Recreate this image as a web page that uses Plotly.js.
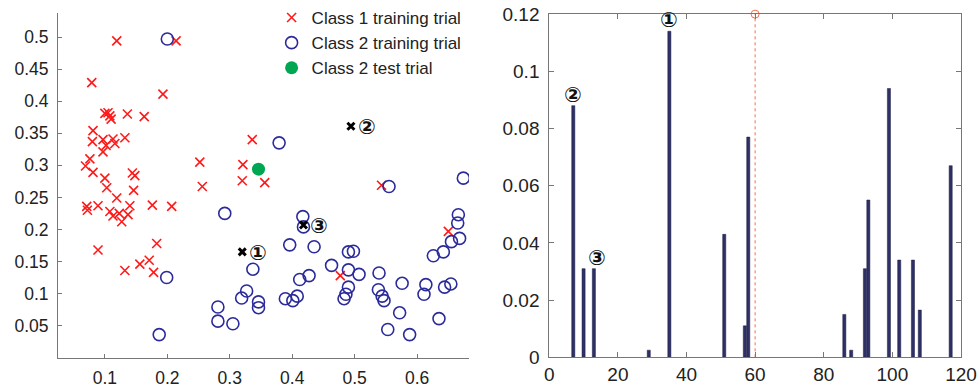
<!DOCTYPE html>
<html><head><meta charset="utf-8">
<script src="https://cdn.plot.ly/plotly-3.0.1.min.js"></script>
<style>html,body{margin:0;padding:0;background:#fff}#chart{width:977px;height:392px}</style>
</head><body><div id="chart"></div>
<script>
// Left: feature space
const class1X = [0.119,0.214,0.079,0.193,0.100,0.105,0.108,0.110,0.136,0.163,0.081,0.080,0.097,0.113,0.116,0.132,0.102,0.097,0.076,0.069,0.081,0.100,0.144,0.148,0.103,0.146,0.119,0.252,0.256,0.321,0.320,0.336,0.356,0.543,0.071,0.072,0.089,0.108,0.113,0.123,0.127,0.137,0.140,0.176,0.207,0.183,0.089,0.171,0.156,0.132,0.178,0.477,0.650];
const class1Y = [0.494,0.494,0.429,0.411,0.381,0.382,0.377,0.372,0.380,0.376,0.354,0.337,0.340,0.341,0.334,0.343,0.331,0.321,0.310,0.299,0.289,0.280,0.288,0.284,0.265,0.261,0.249,0.305,0.267,0.301,0.276,0.340,0.273,0.269,0.236,0.230,0.237,0.228,0.221,0.225,0.212,0.223,0.237,0.238,0.236,0.178,0.168,0.152,0.146,0.136,0.133,0.128,0.197];
const class2X = [0.200,0.379,0.674,0.555,0.292,0.199,0.281,0.281,0.305,0.187,0.319,0.327,0.337,0.346,0.346,0.417,0.418,0.396,0.435,0.412,0.427,0.389,0.401,0.408,0.463,0.490,0.498,0.490,0.507,0.490,0.486,0.483,0.539,0.538,0.544,0.547,0.553,0.572,0.576,0.588,0.614,0.611,0.635,0.626,0.642,0.644,0.654,0.655,0.668,0.665,0.666];
const class2Y = [0.497,0.335,0.280,0.267,0.225,0.125,0.079,0.057,0.053,0.036,0.093,0.104,0.138,0.087,0.078,0.220,0.204,0.176,0.173,0.122,0.128,0.092,0.089,0.096,0.144,0.165,0.166,0.137,0.130,0.110,0.099,0.092,0.132,0.106,0.096,0.089,0.044,0.070,0.116,0.036,0.114,0.099,0.061,0.159,0.165,0.110,0.115,0.181,0.186,0.210,0.223];
const testX = [0.346];
const testY = [0.294];
const markedX = [0.320, 0.494, 0.418];
const markedY = [0.165, 0.361, 0.207];
const markedLabels = ['①','②','③'];

// Right: weights per feature index
const barIndex = [7,10,13,29,35,51,57,58,86,88,92,93,99,102,106,108,117];
const barValue = [0.088,0.031,0.031,0.0025,0.114,0.043,0.011,0.077,0.015,0.0025,0.031,0.055,0.094,0.034,0.034,0.0165,0.067];
const barMarkIndex = [35, 7, 13];
const barMarkValue = [0.114, 0.088, 0.031];
const cutX = [60, 60];
const cutY = [0, 0.12];

const leftTick = {family:'Liberation Sans, Arial, sans-serif', size:17.5, color:'#222'};
const rightTick = {family:'Liberation Sans, Arial, sans-serif', size:19, color:'#222'};
const circFont = {family:'DejaVu Sans', size:21, color:'#111', weight:'bold'};

const traces = [
  {x:class1X, y:class1Y, type:'scatter', mode:'markers', name:'Class 1 training trial',
   marker:{symbol:'x-thin', size:9, color:'#ff1a1a', line:{color:'#ff1a1a', width:1.6}}, xaxis:'x', yaxis:'y'},
  {x:class2X, y:class2Y, type:'scatter', mode:'markers', name:'Class 2 training trial',
   marker:{symbol:'circle-open', size:12, color:'#2b2b9b', line:{width:1.6}}, xaxis:'x', yaxis:'y'},
  {x:testX, y:testY, type:'scatter', mode:'markers', name:'Class 2 test trial',
   marker:{symbol:'circle', size:13, color:'#00a651'}, xaxis:'x', yaxis:'y'},
  {x:markedX, y:markedY, type:'scatter', mode:'markers', showlegend:false,
   marker:{symbol:'x-thin', size:7, color:'#000', line:{color:'#000', width:3}}, xaxis:'x', yaxis:'y'},
  {x:barIndex, y:barValue, type:'bar', showlegend:false, width:0.9,
   marker:{color:'#2e3066', line:{color:'#1a1a40', width:0.5}}, xaxis:'x2', yaxis:'y2'},
  {x:cutX, y:cutY, type:'scatter', mode:'lines', showlegend:false,
   line:{color:'#f07050', width:1, dash:'dot'}, xaxis:'x2', yaxis:'y2'},
  {x:[cutX[1]], y:[cutY[1]], type:'scatter', mode:'markers', showlegend:false, cliponaxis:false,
   marker:{symbol:'circle-open', size:8, color:'#f07050', line:{width:1}}, xaxis:'x2', yaxis:'y2'}
];

const annotations = [];
markedLabels.forEach((t,i)=>{
  annotations.push({x:markedX[i], y:markedY[i], xref:'x', yref:'y', text:t, showarrow:false,
    xanchor:'left', xshift:5, yshift:-1, font:circFont});
  annotations.push({x:barMarkIndex[i], y:barMarkValue[i], xref:'x2', yref:'y2', text:t, showarrow:false,
    yanchor:'bottom', yshift:-3, xshift:(i===2?3:0), font:circFont});
});

const layout = {
  width:977, height:392, margin:{l:0,r:0,t:0,b:0},
  paper_bgcolor:'#fff', plot_bgcolor:'#fff', showlegend:true,
  legend:{x:0.278, y:1.0, xanchor:'left', yanchor:'top', bgcolor:'rgba(0,0,0,0)',
    font:{family:'Liberation Sans, Arial, sans-serif', size:17, color:'#222'}, tracegroupgap:0},
  xaxis:{domain:[0.0594,0.480], range:[0.025,0.683], tickvals:[0.1,0.2,0.3,0.4,0.5,0.6],
    ticktext:['0.1','0.2','0.3','0.4','0.5','0.6'], ticks:'inside', ticklen:4, tickcolor:'#777',
    showline:true, linecolor:'#777', linewidth:1, showgrid:false, zeroline:false, tickfont:leftTick, anchor:'y', ticklabelstandoff:4},
  yaxis:{domain:[0.0875,0.966], range:[0,0.537], tickvals:[0.05,0.1,0.15,0.2,0.25,0.3,0.35,0.4,0.45,0.5],
    ticktext:['0.05','0.1','0.15','0.2','0.25','0.3','0.35','0.4','0.45','0.5'], ticks:'inside', ticklen:4, tickcolor:'#777',
    showline:true, linecolor:'#777', linewidth:1, showgrid:false, zeroline:false, tickfont:leftTick, anchor:'x', ticklabelstandoff:5},
  xaxis2:{domain:[0.5622,0.9836], range:[0,120], tickvals:[0,20,40,60,80,100,120], ticks:'inside', ticklen:5, tickcolor:'#777',
    showline:true, mirror:'ticks', linecolor:'#777', linewidth:1, showgrid:false, zeroline:false, tickfont:rightTick, anchor:'y2'},
  yaxis2:{domain:[0.0885,0.964], range:[0,0.12], tickvals:[0,0.02,0.04,0.06,0.08,0.1,0.12],
    ticktext:['0','0.02','0.04','0.06','0.08','0.1','0.12'], ticks:'inside', ticklen:5, tickcolor:'#777',
    showline:true, mirror:'ticks', linecolor:'#777', linewidth:1, showgrid:false, zeroline:false, tickfont:rightTick, anchor:'x2', ticklabelstandoff:5},
  annotations:annotations
};

Plotly.newPlot('chart', traces, layout, {displayModeBar:false, staticPlot:true});
</script></body></html>
